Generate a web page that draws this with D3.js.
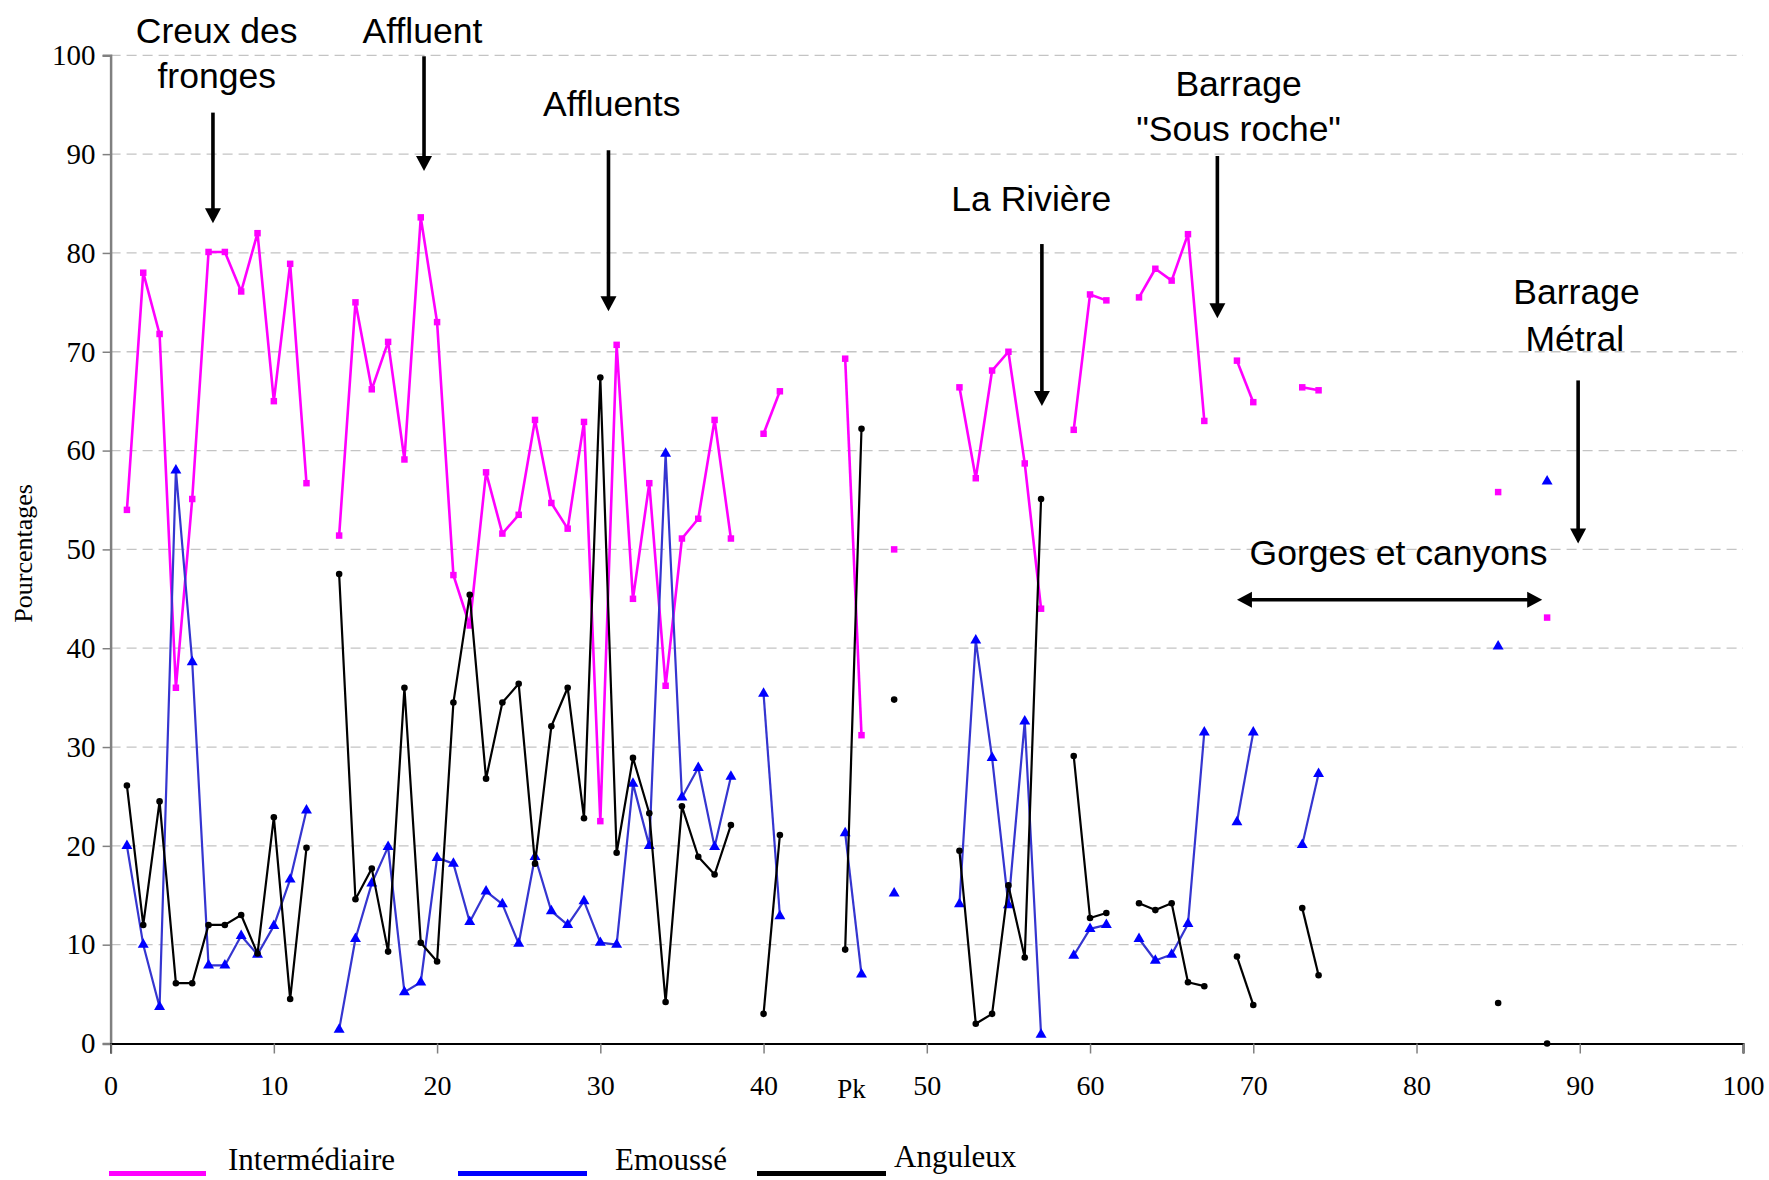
<!DOCTYPE html>
<html>
<head>
<meta charset="utf-8">
<script src="https://cdn.jsdelivr.net/npm/d3@7"></script>
<style>
  body { margin: 0; background: #fff; }
  svg { display: block; }
</style>
</head>
<body>
<svg id="chart" width="1769" height="1180"></svg>
<script>
// Sampling points along the river (kilometre marks)
const pk = [1,2,3,4,5,6,7,8,9,10,11,12,
  14,15,16,17,18,19,20,21,22,23,24,25,26,27,28,29,30,31,32,33,34,35,36,37,38,
  40,41,45,46,48,
  52,53,54,55,56,57,
  59,60,61,63,64,65,66,67,69,70,73,74,85,88];

// Percentages per shape class
const intermediaire = [54.0,78.0,71.8,36.0,55.1,80.1,80.1,76.1,82.0,65.0,78.9,56.7,
  51.4,75.0,66.2,71.0,59.1,83.6,73.0,47.4,42.3,57.8,51.6,53.5,63.1,54.7,52.1,62.9,22.5,70.7,45.0,56.7,36.2,51.1,53.1,63.1,51.1,
  61.7,66.0,69.3,31.2,50.0,
  66.4,57.2,68.1,70.0,58.7,44.0,
  62.1,75.8,75.2,75.5,78.4,77.2,81.9,63.0,69.1,64.9,66.4,66.1,55.8,43.1];

const emousse = [20.0,10.0,3.7,58.0,38.6,7.9,7.9,10.9,9.0,11.9,16.6,23.6,
  1.4,10.6,16.2,19.9,5.2,6.2,18.8,18.2,12.3,15.4,14.1,10.1,18.9,13.4,12.0,14.4,10.2,10.0,26.3,20.0,59.7,24.9,27.9,19.9,27.0,
  35.4,12.9,21.3,7.0,15.2,
  14.1,40.8,28.9,14.0,32.6,0.9,
  8.9,11.6,12.0,10.6,8.4,9.0,12.1,31.5,22.4,31.5,20.1,27.3,40.2,56.9];

const anguleux = [26.1,12.0,24.5,6.1,6.1,12.0,12.0,13.0,9.1,22.9,4.5,19.8,
  47.5,14.6,17.7,9.3,36.0,10.2,8.3,34.5,45.4,26.8,34.5,36.4,18.2,32.1,36.0,22.8,67.4,19.3,28.9,23.3,4.2,24.0,18.9,17.1,22.1,
  3.0,21.1,9.5,62.2,34.8,
  19.5,2.0,3.0,16.0,8.7,55.1,
  29.1,12.7,13.2,14.2,13.5,14.2,6.2,5.8,8.8,3.9,13.7,6.9,4.1,0.0];

const seriesNames = ["Intermédiaire", "Emoussé", "Anguleux"];
const xTicks = d3.range(0, 101, 10);
const yTicks = d3.range(0, 101, 10);

// Labelled arrows (positions in chart units: Pk / percent)
const noteLabels = [
  { text: "Creux des", x: 6.5, y: 101.2 },
  { text: "fronges", x: 6.5, y: 96.7 },
  { text: "Affluent", x: 19.1, y: 101.2 },
  { text: "Affluents", x: 30.7, y: 93.9 },
  { text: "La Rivière", x: 56.4, y: 84.2 },
  { text: "Barrage", x: 69.1, y: 95.9 },
  { text: "\"Sous roche\"", x: 69.1, y: 91.3 },
  { text: "Barrage", x: 89.8, y: 74.8 },
  { text: "Métral", x: 89.7, y: 70.1 },
  { text: "Gorges et canyons", x: 78.9, y: 48.4 }
];
const downArrows = [
  { x: 6.27, from: 94.2, to: 83.0 },
  { x: 19.2, from: 99.9, to: 88.3 },
  { x: 30.5, from: 90.4, to: 74.1 },
  { x: 57.05, from: 80.9, to: 64.5 },
  { x: 67.8, from: 89.8, to: 73.4 },
  { x: 89.9, from: 67.1, to: 50.6 }
];
const spanArrow = { y: 44.9, from: 69.0, to: 87.7 };

const svg = d3.select("#chart");
const W = 1769, H = 1180;
const margin = { left: 110.6, right: W - 1743, top: 55.3, bottom: H - 1043.5 };

const x = d3.scaleLinear().domain([0, 100]).range([margin.left, W - margin.right]);
const y = d3.scaleLinear().domain([0, 100]).range([H - margin.bottom, margin.top]);

const serif = "'Liberation Serif', 'Times New Roman', serif";
const sans = "'Liberation Sans', Arial, sans-serif";

// Horizontal dashed grid
svg.append("g")
  .selectAll("line")
  .data(yTicks.filter(d => d > 0))
  .join("line")
  .attr("x1", x(0)).attr("x2", x(100))
  .attr("y1", d => y(d)).attr("y2", d => y(d))
  .attr("stroke", "#c4c4c4")
  .attr("stroke-width", 1.3)
  .attr("stroke-dasharray", "10,6");

// Y axis
const yAxis = svg.append("g")
  .attr("transform", `translate(${x(0)},0)`)
  .call(d3.axisLeft(y).tickValues(yTicks).tickSize(8).tickPadding(7).tickFormat(d3.format("d")));
yAxis.select(".domain").attr("stroke", "#808080").attr("stroke-width", 2.5);
yAxis.selectAll(".tick line").attr("stroke", "#808080").attr("stroke-width", 1.5);
yAxis.selectAll(".tick text")
  .attr("font-family", serif).attr("font-size", 29).attr("fill", "#000");

// X axis
const xAxis = svg.append("g")
  .attr("transform", `translate(0,${y(0)})`)
  .call(d3.axisBottom(x).tickValues(xTicks).tickSize(10).tickPadding(22).tickFormat(d3.format("d")));
xAxis.select(".domain").attr("stroke", "#000").attr("stroke-width", 2);
xAxis.selectAll(".tick line").attr("stroke", "#808080").attr("stroke-width", 1.5);
xAxis.selectAll(".tick text")
  .attr("font-family", serif).attr("font-size", 28).attr("fill", "#000");

// Axis titles
svg.append("text")
  .attr("x", 851.6).attr("y", 1098)
  .attr("text-anchor", "middle")
  .attr("font-family", serif).attr("font-size", 27)
  .text("Pk");
svg.append("text")
  .attr("transform", `translate(32,${(y(0) + y(100)) / 2 + 4}) rotate(-90)`)
  .attr("text-anchor", "middle")
  .attr("font-family", serif).attr("font-size", 26)
  .text("Pourcentages");

// Split a series into runs of consecutive kilometre marks
function runs(values) {
  const out = [];
  let cur = [];
  pk.forEach((p, i) => {
    if (cur.length && p - cur[cur.length - 1].p > 1) { out.push(cur); cur = []; }
    cur.push({ p, v: values[i] });
  });
  if (cur.length) out.push(cur);
  return out;
}

const line = d3.line().x(d => x(d.p)).y(d => y(d.v));

const series = [
  { name: seriesNames[0], values: intermediaire, stroke: "#ff00ff", fill: "#ff00ff", width: 2.6, symbol: d3.symbolSquare, size: 42 },
  { name: seriesNames[1], values: emousse, stroke: "#3535d0", fill: "#0000ff", width: 2.2, symbol: d3.symbolTriangle, size: 52 },
  { name: seriesNames[2], values: anguleux, stroke: "#000000", fill: "#000000", width: 2.2, symbol: d3.symbolCircle, size: 34 }
];

series.forEach(s => {
  const g = svg.append("g");
  g.selectAll("path.seg")
    .data(runs(s.values).filter(r => r.length > 1))
    .join("path")
    .attr("class", "seg")
    .attr("d", line)
    .attr("fill", "none")
    .attr("stroke", s.stroke)
    .attr("stroke-width", s.width)
    .attr("stroke-linejoin", "round");
  g.selectAll("path.mk")
    .data(pk.map((p, i) => ({ p, v: s.values[i] })))
    .join("path")
    .attr("class", "mk")
    .attr("d", d3.symbol().type(s.symbol).size(s.size))
    .attr("transform", d => `translate(${x(d.p)},${y(d.v)})`)
    .attr("fill", s.fill);
});

// Annotations
const notes = svg.append("g");
notes.selectAll("text")
  .data(noteLabels)
  .join("text")
  .attr("x", d => x(d.x))
  .attr("y", d => y(d.y))
  .attr("text-anchor", "middle")
  .attr("font-family", sans)
  .attr("font-size", 35.5)
  .attr("fill", "#000")
  .text(d => d.text);

const headLen = 15, headHalf = 8;
downArrows.forEach(a => {
  const ax = x(a.x), y1 = y(a.from), y2 = y(a.to);
  notes.append("line")
    .attr("x1", ax).attr("x2", ax)
    .attr("y1", y1).attr("y2", y2 - headLen + 2)
    .attr("stroke", "#000").attr("stroke-width", 3.6);
  notes.append("path")
    .attr("d", `M${ax - headHalf},${y2 - headLen}L${ax + headHalf},${y2 - headLen}L${ax},${y2}Z`)
    .attr("fill", "#000");
});
{
  const ay = y(spanArrow.y), x1 = x(spanArrow.from), x2 = x(spanArrow.to);
  notes.append("line")
    .attr("x1", x1 + headLen - 2).attr("x2", x2 - headLen + 2)
    .attr("y1", ay).attr("y2", ay)
    .attr("stroke", "#000").attr("stroke-width", 3.6);
  notes.append("path")
    .attr("d", `M${x1},${ay}L${x1 + headLen},${ay - headHalf}L${x1 + headLen},${ay + headHalf}Z`)
    .attr("fill", "#000");
  notes.append("path")
    .attr("d", `M${x2},${ay}L${x2 - headLen},${ay - headHalf}L${x2 - headLen},${ay + headHalf}Z`)
    .attr("fill", "#000");
}

// Legend
const legendItems = [
  { name: seriesNames[0], color: "#ff00ff", x1: 109, x2: 206, tx: 228, ty: 1170 },
  { name: seriesNames[1], color: "#0000ff", x1: 458, x2: 587, tx: 615, ty: 1170 },
  { name: seriesNames[2], color: "#000000", x1: 757, x2: 886, tx: 894, ty: 1167 }
];
const legend = svg.append("g");
legend.selectAll("rect")
  .data(legendItems)
  .join("rect")
  .attr("x", d => d.x1).attr("y", 1171)
  .attr("width", d => d.x2 - d.x1).attr("height", 5)
  .attr("fill", d => d.color);
legend.selectAll("text")
  .data(legendItems)
  .join("text")
  .attr("x", d => d.tx).attr("y", d => d.ty)
  .attr("font-family", serif).attr("font-size", 31)
  .attr("fill", "#000")
  .text(d => d.name);
</script>
</body>
</html>
